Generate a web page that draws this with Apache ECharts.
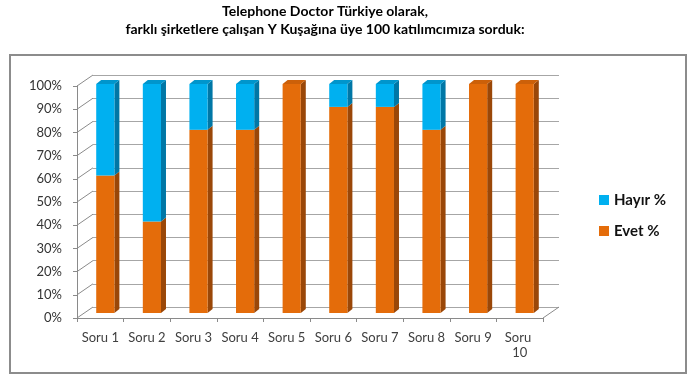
<!DOCTYPE html>
<html>
<head>
<meta charset="utf-8">
<script src="https://cdn.jsdelivr.net/npm/echarts@6/dist/echarts.min.js"></script>
<style>html,body{margin:0;padding:0;background:#fff;}#c{width:697px;height:390px;}</style>
</head>
<body>
<div id="c"></div>
<script>
const categories = ['Soru 1','Soru 2','Soru 3','Soru 4','Soru 5','Soru 6','Soru 7','Soru 8','Soru 9','Soru 10'];
const evet = [60,40,80,80,100,90,90,80,100,100];
const hayir = [40,60,20,20,0,10,10,20,0,0];
const yTicks = [0,10,20,30,40,50,60,70,80,90,100];
const titleLines = ['Telephone Doctor Türkiye olarak,', 'farklı şirketlere çalışan Y Kuşağına üye 100 katılımcımıza sorduk:'];

const FONT = 'Lato';
const DX = 5, DY = -4;          // bar depth
const WX = 16, WY = -11;        // wall depth
const AX = '#8a8a8a';

function barRender(front, side, topc) {
  return function (params, api) {
    const i = api.value(0), s = api.value(1), e = api.value(2), isTop = api.value(3);
    if (e <= s) return null;
    const cw = api.size([1, 0])[0];
    const w = cw * 0.39;
    const cx = api.coord([i, 0])[0];
    const x0 = cx - w / 2;
    const yB = api.coord([i, s])[1];
    const yT = api.coord([i, e])[1];
    const ch = [
      {type:'polygon', shape:{points:[[x0+w,yT],[x0+w+DX,yT+DY],[x0+w+DX,yB+DY],[x0+w,yB]]}, style:{fill:side}},
      {type:'rect', shape:{x:x0, y:yT, width:w, height:yB-yT}, style:{fill:front}}
    ];
    if (isTop) ch.push({type:'polygon', shape:{points:[[x0,yT],[x0+DX,yT+DY],[x0+w+DX,yT+DY],[x0+w,yT]]}, style:{fill:topc}});
    return {type:'group', children: ch};
  };
}

const evetData = evet.map((v,i)=>[i,0,v,hayir[i]===0?1:0]);
const hayirData = hayir.map((v,i)=>[i,evet[i],evet[i]+v,1]);

const chart = echarts.init(document.getElementById('c'));
chart.setOption({
  animation:false,
  textStyle:{fontFamily:FONT},
  title:{
    text: titleLines.join('\n'),
    left: 320, top: -3, textAlign:'center',
    textStyle:{fontFamily:FONT, fontSize:14, fontWeight:'bold', color:'#000', lineHeight:18}
  },
  graphic:[{type:'rect', shape:{x:10,y:55,width:676,height:318}, style:{fill:null, stroke:'#8c8c8c', lineWidth:2}, z:-10}],
  legend:{
    orient:'vertical', left:594, top:186,
    data:['Hayır %','Evet %'],
    icon:'rect', itemWidth:10, itemHeight:10, itemGap:13,
    textStyle:{fontFamily:FONT, fontSize:15, fontWeight:'bold', color:'#111', lineHeight:18}
  },
  grid:[
    {left:77, top:86, width:466, height:232},
    {left:93, top:75, width:466, height:232},
    {left:82, top:84, width:466, height:229}
  ],
  xAxis:[
    {gridIndex:0, type:'category', data:categories, boundaryGap:true,
     axisLine:{lineStyle:{color:AX}}, axisTick:{show:true, length:4, lineStyle:{color:AX}},
     axisLabel:{color:'#404040', fontSize:13, margin:12, width:41, overflow:'break', interval:0, lineHeight:15}},
    {gridIndex:1, type:'category', data:categories, show:false},
    {gridIndex:2, type:'category', data:categories, show:false}
  ],
  yAxis:[
    {gridIndex:0, type:'value', min:0, max:100, interval:10,
     axisLine:{show:true, lineStyle:{color:AX}}, axisTick:{show:true, length:4, lineStyle:{color:AX}},
     splitLine:{show:false},
     axisLabel:{formatter:'{value}%', color:'#333', fontSize:13, margin:15}},
    {gridIndex:1, type:'value', min:0, max:100, interval:10,
     axisLine:{show:false}, axisTick:{show:false}, axisLabel:{show:false},
     splitLine:{show:true, lineStyle:{color:'#a6a6a6', width:1}}},
    {gridIndex:2, type:'value', min:0, max:100, interval:10, show:false, splitLine:{show:false}}
  ],
  series:[
    {name:'walls', type:'custom', xAxisIndex:0, yAxisIndex:0, silent:true, z:1,
     data: yTicks.map(v=>[0,v]),
     renderItem:function(params, api){
       const cs = params.coordSys;
       const v = api.value(1);
       const y = api.coord([0, v])[1];
       const ch = [{type:'line', shape:{x1:cs.x, y1:y, x2:cs.x+WX, y2:y+WY}, style:{stroke:AX, lineWidth:1}}];
       if (v === 0) ch.push({type:'line', shape:{x1:cs.x+cs.width, y1:y, x2:cs.x+cs.width+WX, y2:y+WY}, style:{stroke:AX, lineWidth:1}});
       return {type:'group', children:ch};
     }},
    {name:'Evet %', type:'custom', xAxisIndex:2, yAxisIndex:2, z:3, itemStyle:{color:'#E46C0A'},
     data: evetData, renderItem: barRender('#E46C0A', '#9A4708', '#CC6009')},
    {name:'Hayır %', type:'custom', xAxisIndex:2, yAxisIndex:2, z:3, itemStyle:{color:'#00B0F0'},
     data: hayirData, renderItem: barRender('#00B0F0', '#0077A6', '#0095CC')}
  ]
});
</script>
</body>
</html>
